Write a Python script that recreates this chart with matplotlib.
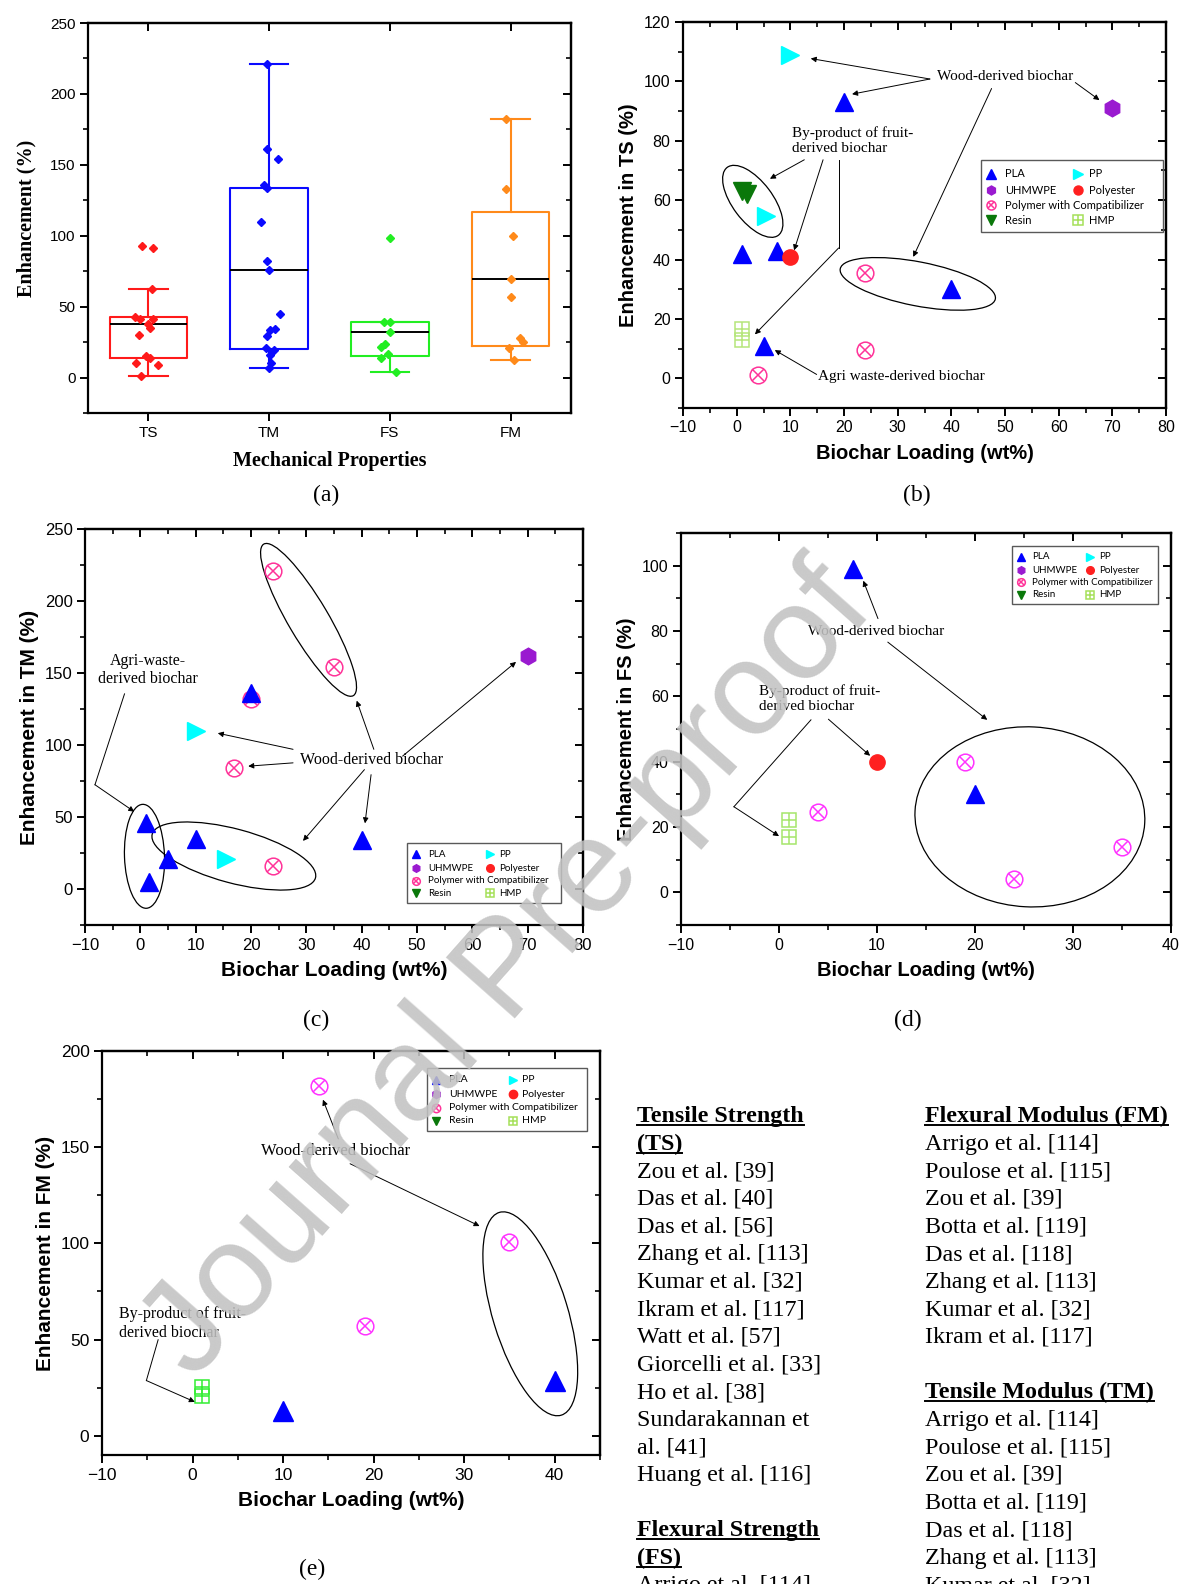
# Biochar composites: enhancement summary (a), per-property scatter (b-e), reference list
import matplotlib
matplotlib.use('Agg')
from matplotlib import pyplot as plt
from matplotlib import transforms
from matplotlib.lines import Line2D
from matplotlib.patches import Ellipse, Rectangle
from matplotlib.ticker import MultipleLocator

plt.rcParams['font.family'] = ['Liberation Sans', 'DejaVu Sans']

'''
DATA (read off the picture)
'''

# (a) box summary per mechanical property
props = ['TS', 'TM', 'FS', 'FM']
box_q1 = [13.5, 20, 15, 22.5]
box_med = [37.5, 76, 32, 69.5]
box_q3 = [42.5, 134, 39.5, 116.5]
box_lo = [1, 7, 4, 12.5]
box_hi = [62.5, 221, 39.5, 182]

# (a) individual points
pts_ts = [93, 91, 62.5, 42.5, 41, 41, 37.5, 35, 30, 15.5, 13.5, 10.5, 8.5, 1]
pts_tm = [221, 161, 154, 136, 133.5, 109.5, 82.5, 76, 45, 34, 33.5, 29, 20.5, 19.5, 16, 10.5, 7]
pts_fs = [98.5, 39.5, 39.5, 32, 24, 21.5, 16.5, 13.5, 4]
pts_fm = [182, 133, 100, 69.5, 57, 28, 25, 21, 12.5]

# (b) enhancement in TS vs loading
ts_pla_x = [20, 1, 7.5, 40, 5]
ts_pla_y = [93, 42, 43, 30, 11]
ts_pp_x = [10, 5.5]
ts_pp_y = [109, 54.5]
ts_uhmwpe_x = [70]
ts_uhmwpe_y = [91]
ts_polyester_x = [10]
ts_polyester_y = [41]
ts_compat_x = [24, 24, 4]
ts_compat_y = [35.5, 9.5, 1]
ts_resin_x = [1, 2]
ts_resin_y = [63, 62]
ts_hmp_x = [1, 1]
ts_hmp_y = [16.5, 13]

# (c) enhancement in TM
tm_pla_x = [20, 1, 10, 5, 1.5, 40]
tm_pla_y = [136, 46, 35, 21, 5, 34]
tm_pp_x = [10, 15.5]
tm_pp_y = [110, 21]
tm_uhmwpe_x = [70]
tm_uhmwpe_y = [162]
tm_compat_x = [24, 35, 20, 17, 24]
tm_compat_y = [221, 154, 132, 84, 16]

# (d) enhancement in FS
fs_pla_x = [7.5, 20]
fs_pla_y = [99, 30]
fs_polyester_x = [10]
fs_polyester_y = [40]
fs_compat_x = [19, 4, 24, 35]
fs_compat_y = [40, 24.5, 4, 14]
fs_hmp_x = [1, 1]
fs_hmp_y = [22, 17]

# (e) enhancement in FM
fm_pla_x = [10, 40]
fm_pla_y = [13, 28.5]
fm_compat_x = [14, 35, 19]
fm_compat_y = [182, 100.5, 57]
fm_hmp_x = [1, 1]
fm_hmp_y = [25.5, 20.5]

# reference list
col1_lines = ['Tensile Strength', '(TS)', 'Zou et al. [39]', 'Das et al. [40]', 'Das et al. [56]',
              'Zhang et al. [113]', 'Kumar et al. [32]', 'Ikram et al. [117]', 'Watt et al. [57]',
              'Giorcelli et al. [33]', 'Ho et al. [38]', 'Sundarakannan et', 'al. [41]',
              'Huang et al. [116]', '', 'Flexural Strength', '(FS)', 'Arrigo et al. [114]']
col1_heads = [0, 1, 15, 16]
col2_lines = ['Flexural Modulus (FM)', 'Arrigo et al. [114]', 'Poulose et al. [115]', 'Zou et al. [39]',
              'Botta et al. [119]', 'Das et al. [118]', 'Zhang et al. [113]', 'Kumar et al. [32]',
              'Ikram et al. [117]', '', 'Tensile Modulus (TM)', 'Arrigo et al. [114]',
              'Poulose et al. [115]', 'Zou et al. [39]', 'Botta et al. [119]', 'Das et al. [118]',
              'Zhang et al. [113]', 'Kumar et al. [32]']
col2_heads = [0, 10]

'''
STYLE
'''

prop_colors = ['#ff1a1a', '#0a0aff', '#22ee22', '#ff8a1a']
jit_ts = [-0.05, 0.04, 0.03, -0.11, -0.07, 0.04, 0, 0.01, -0.08, -0.02, 0.01, -0.1, 0.08, -0.06]
jit_tm = [-0.02, -0.02, 0.07, -0.04, -0.02, -0.07, -0.02, 0, 0.09, 0.045, 0.006, -0.02, -0.025, 0.038, 0.006, 0.013, 0]
jit_fs = [0, -0.05, 0, 0, -0.04, -0.075, -0.013, -0.07, 0.05]
jit_fm = [-0.04, -0.04, 0.02, 0, 0, 0.08, 0.1, -0.01, 0.03]

W, H = 1182, 1584
SERIF = ['Liberation Serif', 'DejaVu Serif']


def rect(x0, y0, x1, y1):
    return [x0 / W, 1 - y1 / H, (x1 - x0) / W, (y1 - y0) / H]


def frame(ax, xlim, ylim, xmaj, xmin, ymaj, ymin, fs):
    ax.set_xlim(*xlim)
    ax.set_ylim(*ylim)
    for s in ax.spines.values():
        s.set_linewidth(1.6)
    ax.xaxis.set_major_locator(MultipleLocator(xmaj))
    ax.yaxis.set_major_locator(MultipleLocator(ymaj))
    ax.yaxis.set_minor_locator(MultipleLocator(ymin))
    if xmin:
        ax.xaxis.set_minor_locator(MultipleLocator(xmin))
    ax.tick_params(which='major', direction='out', length=6, width=1.4, labelsize=fs, pad=3)
    ax.tick_params(which='minor', direction='out', length=3.5, width=1.2)
    top = ax.secondary_xaxis('top')
    top.xaxis.set_major_locator(MultipleLocator(xmaj))
    if xmin:
        top.xaxis.set_minor_locator(MultipleLocator(xmin))
    right = ax.secondary_yaxis('right')
    right.yaxis.set_major_locator(MultipleLocator(ymaj))
    right.yaxis.set_minor_locator(MultipleLocator(ymin))
    for sec in (top, right):
        sec.tick_params(which='major', direction='in', length=6, width=1.4,
                        labeltop=False, labelright=False)
        sec.tick_params(which='minor', direction='in', length=3.5, width=1.2)
        for s in sec.spines.values():
            s.set_linewidth(1.6)


def mark(ax, kind, xs, ys, ms, pink='#ff3399', lime='#a6e05a', **kw):
    if kind == 'pla':
        ax.plot(xs, ys, '^', ls='none', color='#0000ff', ms=ms, **kw)
    elif kind == 'pp':
        ax.plot(xs, ys, '>', ls='none', color='#00ffff', ms=ms, **kw)
    elif kind == 'uhmwpe':
        ax.plot(xs, ys, 'h', ls='none', color='#9a1ad0', ms=ms, **kw)
    elif kind == 'polyester':
        ax.plot(xs, ys, 'o', ls='none', color='#ff2020', ms=ms, **kw)
    elif kind == 'resin':
        ax.plot(xs, ys, 'v', ls='none', color='#0a780a', ms=ms, **kw)
    elif kind == 'compat':
        ax.plot(xs, ys, 'o', ls='none', mfc='none', mec=pink, ms=ms, mew=1.1, **kw)
        ax.plot(xs, ys, 'x', ls='none', color=pink, ms=ms * 0.72, mew=1.1, **kw)
    elif kind == 'hmp':
        ax.plot(xs, ys, 's', ls='none', mfc='none', mec=lime, ms=ms, mew=1.1, **kw)
        ax.plot(xs, ys, '+', ls='none', color=lime, ms=ms, mew=1.1, **kw)


def legend_box(ax, x0, y0, x1, y1, fs, ms):
    ax.add_patch(Rectangle((x0, y0), x1 - x0, y1 - y0, transform=ax.transAxes,
                           fill=False, ec='0.35', lw=1.0, zorder=6))
    rows = [0.19, 0.42, 0.63, 0.84]
    entries = [(0, 0, 'pla', 'PLA'), (1, 0, 'pp', 'PP'), (0, 1, 'uhmwpe', 'UHMWPE'),
               (1, 1, 'polyester', 'Polyester'), (0, 2, 'compat', 'Polymer with Compatibilizer'),
               (0, 3, 'resin', 'Resin'), (1, 3, 'hmp', 'HMP')]
    for col, row, kind, label in entries:
        mx = x0 + (x1 - x0) * (0.057 if col == 0 else 0.535)
        tx = x0 + (x1 - x0) * (0.135 if col == 0 else 0.595)
        yy = y1 - (y1 - y0) * rows[row]
        mark(ax, kind, [mx], [yy], ms, transform=ax.transAxes, clip_on=False, zorder=7)
        ax.text(tx, yy, label, transform=ax.transAxes, fontsize=fs, va='center',
                family=['Lato', 'DejaVu Sans'], zorder=7)


def ring(ax, cx, cy, w, h, ang):
    # ellipse sized in pixels, centred on a data point
    tr = fig.dpi_scale_trans + transforms.ScaledTranslation(cx, cy, ax.transData)
    ax.add_patch(Ellipse((0, 0), w / 100, h / 100, angle=ang, transform=tr,
                         fill=False, ec='k', lw=0.9, clip_on=False))


def arrow(ax, tail, head):
    ax.annotate('', xy=head, xytext=tail,
                arrowprops=dict(arrowstyle='-|>', color='k', lw=0.7, mutation_scale=8,
                                shrinkA=0, shrinkB=0))


def bent_arrow(ax, pts):
    ax.plot([p[0] for p in pts[:-1]], [p[1] for p in pts[:-1]], color='k', lw=0.7)
    arrow(ax, pts[-2], pts[-1])


def note(ax, x, y, s, fs, ha='left'):
    ax.text(x, y, s, fontsize=fs, family=SERIF, ha=ha, va='center', linespacing=1.2)


def scatter_labels(ax, prop, fs):
    ax.set_xlabel('Biochar Loading (wt%)', fontsize=fs, fontweight='bold', labelpad=6)
    ax.set_ylabel('Enhancement in %s (%%)' % prop, fontsize=fs, fontweight='bold', labelpad=4)


fig = plt.figure(figsize=(W / 100, H / 100), dpi=100)

'''
(a) BOX PLOT
'''

ax = fig.add_axes(rect(88, 23, 571, 413))
stats = [dict(q1=box_q1[i], med=box_med[i], q3=box_q3[i], whislo=box_lo[i],
              whishi=box_hi[i], fliers=[]) for i in range(4)]
bp = ax.bxp(stats, positions=[1, 2, 3, 4], widths=0.64, capwidths=0.32, showfliers=False)
for i, c in enumerate(prop_colors):
    bp['boxes'][i].set(color=c, lw=1.5)
    for k in (2 * i, 2 * i + 1):
        bp['whiskers'][k].set(color=c, lw=1.5)
        bp['caps'][k].set(color=c, lw=1.5)
    bp['medians'][i].set(color='k', lw=1.4)
for i, (vals, jit) in enumerate([(pts_ts, jit_ts), (pts_tm, jit_tm), (pts_fs, jit_fs), (pts_fm, jit_fm)]):
    ax.plot([i + 1 + j for j in jit], vals, 'D', ls='none', color=prop_colors[i], ms=3.8, zorder=4)
frame(ax, (0.5, 4.5), (-25, 250), 1, None, 50, 25, 11)
ax.set_xticks([1, 2, 3, 4], props)
ax.set_xlabel('Mechanical Properties', fontsize=14.5, fontweight='bold', family=SERIF, labelpad=8)
ax.set_ylabel('Enhancement (%)', fontsize=14.5, fontweight='bold', family=SERIF, labelpad=10)

'''
(b) TS
'''

ax = fig.add_axes(rect(683, 22, 1166, 408))
mark(ax, 'pla', ts_pla_x, ts_pla_y, 13)
mark(ax, 'pp', ts_pp_x, ts_pp_y, 13)
mark(ax, 'uhmwpe', ts_uhmwpe_x, ts_uhmwpe_y, 12)
mark(ax, 'polyester', ts_polyester_x, ts_polyester_y, 11)
mark(ax, 'compat', ts_compat_x, ts_compat_y, 12)
mark(ax, 'resin', ts_resin_x, ts_resin_y, 13)
mark(ax, 'hmp', ts_hmp_x, ts_hmp_y, 9.5, lime='#b5e57a')
note(ax, 37.4, 101.6, 'Wood-derived biochar', 11)
arrow(ax, (36, 100.8), (13.8, 107.7))
arrow(ax, (36, 100.8), (21.5, 95.7))
arrow(ax, (63.1, 99.6), (67.6, 93.7))
arrow(ax, (47.5, 97.6), (32.9, 40.9))
note(ax, 10.3, 80.2, 'By-product of fruit-\nderived biochar', 11)
arrow(ax, (12.6, 73.6), (6.2, 67.2))
arrow(ax, (16.1, 73.6), (10.7, 43.1))
bent_arrow(ax, [(19, 73.6), (19, 43.9), (3.4, 14.8)])
note(ax, 15.2, 0.6, 'Agri waste-derived biochar', 11)
arrow(ax, (14.9, 1.3), (7.1, 9.5))
ring(ax, 3, 59.6, 85, 40, -53)
ring(ax, 33.75, 31.8, 158, 44, -11)
legend_box(ax, 0.616, 0.456, 0.994, 0.643, 8, 6.5)
frame(ax, (-10, 80), (-10, 120), 10, 5, 20, 10, 11.5)
scatter_labels(ax, 'TS', 14.5)

'''
(c) TM
'''

ax = fig.add_axes(rect(85, 529, 583, 925))
mark(ax, 'compat', tm_compat_x, tm_compat_y, 12)
mark(ax, 'pla', tm_pla_x, tm_pla_y, 13)
mark(ax, 'pp', tm_pp_x, tm_pp_y, 13)
mark(ax, 'uhmwpe', tm_uhmwpe_x, tm_uhmwpe_y, 12)
note(ax, 1.3, 152, 'Agri-waste-\nderived biochar', 11.5, ha='center')
bent_arrow(ax, [(-2.86, 135.5), (-8.2, 72.4), (-1.1, 53.7)])
note(ax, 28.8, 89.3, 'Wood-derived biochar', 11.5)
arrow(ax, (27.6, 97), (14, 108.2))
arrow(ax, (27.6, 87.6), (19.5, 85.3))
arrow(ax, (42.2, 97), (39.1, 130.8))
arrow(ax, (47.4, 92.3), (67.9, 157.7))
arrow(ax, (40.5, 82.9), (29.4, 33.4))
arrow(ax, (41.7, 79.4), (40.6, 45.6))
ring(ax, 30.4, 186.9, 176, 40, -59.4)
ring(ax, 0.75, 22.7, 104, 40, 92)
ring(ax, 16.9, 22.9, 169, 54, -15)
legend_box(ax, 0.647, 0.056, 0.956, 0.207, 7, 5.5)
frame(ax, (-10, 80), (-25, 250), 10, 5, 50, 25, 12)
scatter_labels(ax, 'TM', 15)

'''
(d) FS
'''

ax = fig.add_axes(rect(681, 533, 1171, 925))
mark(ax, 'pla', fs_pla_x, fs_pla_y, 13)
mark(ax, 'polyester', fs_polyester_x, fs_polyester_y, 11)
mark(ax, 'compat', fs_compat_x, fs_compat_y, 12, pink='#ff33ff')
mark(ax, 'hmp', fs_hmp_x, fs_hmp_y, 10, lime='#a6e66b')
note(ax, 2.95, 79.9, 'Wood-derived biochar', 11)
arrow(ax, (10.1, 83.8), (8.6, 95.4))
arrow(ax, (11.1, 76.6), (21.25, 52.8))
note(ax, -2.08, 59.3, 'By-product of fruit-\nderived biochar', 11)
arrow(ax, (5.04, 53), (9.3, 41.8))
bent_arrow(ax, [(3.26, 52.8), (-4.6, 26.2), (0, 17.2)])
ring(ax, 25.6, 23.1, 230, 180, -3)
legend_box(ax, 0.676, 0.819, 0.973, 0.967, 7, 5.5)
frame(ax, (-10, 40), (-10, 110), 10, 5, 20, 10, 11.5)
scatter_labels(ax, 'FS', 14.5)

'''
(e) FM
'''

ax = fig.add_axes(rect(102, 1051, 600, 1455))
mark(ax, 'compat', fm_compat_x, fm_compat_y, 12, pink='#ff33ff')
mark(ax, 'pla', fm_pla_x, fm_pla_y, 14)
mark(ax, 'hmp', fm_hmp_x, fm_hmp_y, 10, lime='#33ee33')
note(ax, 7.6, 147.9, 'Wood-derived biochar', 12)
arrow(ax, (16.1, 154.3), (14.4, 174.7))
arrow(ax, (17.4, 141.4), (31.7, 109))
note(ax, -8.1, 58.3, 'By-product of fruit-\nderived biochar', 11.5)
bent_arrow(ax, [(-3.8, 49.9), (-5.1, 28.7), (0.25, 17.6)])
ring(ax, 37.3, 63.4, 212, 75, -73)
legend_box(ax, 0.653, 0.802, 0.974, 0.958, 7.5, 6)
frame(ax, (-10, 45), (-10, 200), 10, 5, 50, 25, 12.5)
scatter_labels(ax, 'FM', 15)

'''
PANEL TAGS, REFERENCE LIST, WATERMARK
'''

for tag, x, y in [('(a)', 326, 495), ('(b)', 917, 495), ('(c)', 316, 1020),
                  ('(d)', 908, 1020), ('(e)', 312, 1569)]:
    fig.text(x / W, 1 - y / H, tag, fontsize=17, family=SERIF, ha='center', va='center')

heads = []
for lines, hidx, x0 in [(col1_lines, col1_heads, 637), (col2_lines, col2_heads, 925)]:
    for i, s in enumerate(lines):
        if not s:
            continue
        yb = 1122 + i * 27.6
        t = fig.text(x0 / W, 1 - yb / H, s, fontsize=17.3, family=SERIF, va='baseline',
                     fontweight='bold' if i in hidx else 'normal')
        if i in hidx:
            heads.append((t, yb))

fig.canvas.draw()
rend = fig.canvas.get_renderer()
for t, yb in heads:
    bb = t.get_window_extent(rend)
    yy = 1 - (yb + 3) / H
    fig.add_artist(Line2D([bb.x0 / W, bb.x1 / W], [yy, yy], transform=fig.transFigure,
                          color='k', lw=1.4))

fig.text(0.431, 0.386, 'Journal Pre-proof', rotation=48.5, fontsize=96, color='0.76', alpha=0.88,
         ha='center', va='center', zorder=100)

fig.savefig('out.png', dpi=100)
